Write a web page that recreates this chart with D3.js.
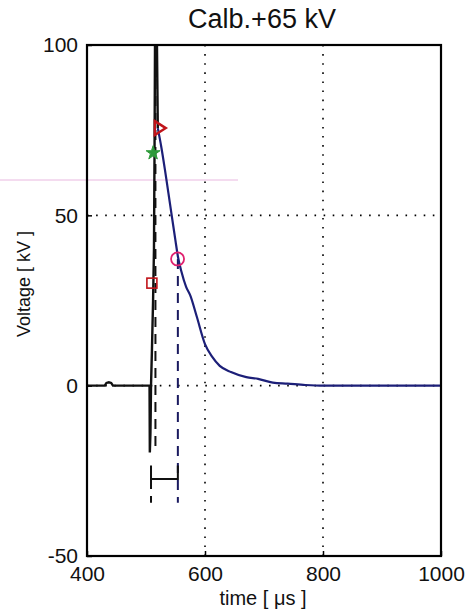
<!DOCTYPE html>
<html><head><meta charset="utf-8">
<script src="https://cdn.jsdelivr.net/npm/d3@7/dist/d3.min.js"></script>
<style>body{margin:0;background:#fff}svg{display:block}text{font-family:"Liberation Sans",Arial,sans-serif;fill:#111}</style>
</head><body><svg id="c" width="468" height="615"></svg>
<script>
// ---- data ----
const xTicks = [400, 600, 800, 1000];
const yTicks = [-50, 0, 50, 100];
const xGrid = [600, 800];
const yGrid = [0, 50];
// raw measured signal (black)
const rawT = [400, 430, 433, 437, 441, 444, 506, 506.5, 507.5, 508, 508.5, 510, 512, 513.5, 514.5, 515.5, 518, 520];
const rawV = [0, 0, 0.8, 1.0, 0.8, 0, 0, -19.6, -14, -8, 0, 10, 25, 40, 70, 110, 110, 75.6];
// fitted decay (blue)
const fitT = [520, 526, 532, 538, 544, 550, 554, 560, 568, 575, 586, 600, 612, 625, 644, 670, 690, 715, 740, 770, 800, 1000];
const fitV = [75.6, 70, 63.5, 56.5, 49.5, 42.5, 38, 33.5, 29, 26.5, 20.3, 12.2, 8.5, 5.8, 4.0, 2.5, 2.0, 0.9, 0.6, 0.2, 0, 0];
// markers
const triPt = [520, 75.6];
const starPt = [512, 68.3];
const sqPt = [510, 30.1];
const circPt = [553.5, 37.2];
// dashed markers / bracket
const dashBlack = [516, 100, -18.7];
const dashBlue = [554, 37.2, -34.4];
const dashLeft = [508.5, -23.4, -34.4];
const bracket = [508.5, 554, -27.4, -23.4];

const svg = d3.select("#c");
const L = 87, R = 441, T = 45, B = 556;
const x = d3.scaleLinear().domain([400, 1000]).range([L, R]);
const y = d3.scaleLinear().domain([-50, 100]).range([B, T]);

// scan artifact line
svg.append("line").attr("x1", 0).attr("x2", 238).attr("y1", 180).attr("y2", 180)
  .attr("stroke", "#e9b8e0").attr("stroke-width", 1);

// grid
xGrid.forEach(v => svg.append("line").attr("x1", x(v)).attr("x2", x(v)).attr("y1", T).attr("y2", B)
  .attr("stroke", "#000").attr("stroke-width", 1.6).attr("stroke-dasharray", "1.6,7.5"));
yGrid.forEach(v => svg.append("line").attr("x1", L).attr("x2", R).attr("y1", y(v)).attr("y2", y(v))
  .attr("stroke", "#000").attr("stroke-width", 1.6).attr("stroke-dasharray", "1.6,7.5"));

// axes with inward ticks
const gx = svg.append("g").attr("transform", `translate(0,${B})`)
  .call(d3.axisBottom(x).tickValues(xTicks).tickSize(-5).tickPadding(10).tickFormat(d3.format("d")));
const gy = svg.append("g").attr("transform", `translate(${L},0)`)
  .call(d3.axisLeft(y).tickValues(yTicks).tickSize(-5).tickPadding(9).tickFormat(d => d < 0 ? "-" + Math.abs(d) : d));
[gx, gy].forEach(g => {
  g.select(".domain").remove();
  g.selectAll("line").attr("stroke", "#000").attr("stroke-width", 1.5);
  g.selectAll("text").attr("font-size", 21).attr("fill", "#111").style("font-family", '"Liberation Sans",Arial,sans-serif');
});

const clip = svg.append("clipPath").attr("id", "pc").append("rect")
  .attr("x", L).attr("y", T).attr("width", R - L).attr("height", B - T);
const plot = svg.append("g").attr("clip-path", "url(#pc)");

const line = d3.line().x(d => x(d[0])).y(d => y(d[1]));

// dashed lines
function vdash(t, v1, v2, col) {
  plot.append("line").attr("x1", x(t)).attr("x2", x(t)).attr("y1", y(v1)).attr("y2", y(v2))
    .attr("stroke", col).attr("stroke-width", 2).attr("stroke-dasharray", "10,7");
}
vdash(dashBlack[0], dashBlack[1], dashBlack[2], "#111");
vdash(dashBlue[0], dashBlue[1], dashBlue[2], "#1a1a60");
vdash(dashLeft[0], bracket[2], dashLeft[2], "#111");
// bracket
plot.append("path").attr("fill", "none").attr("stroke", "#111").attr("stroke-width", 2)
  .attr("d", line([[bracket[0], bracket[3]], [bracket[0], bracket[2]], [bracket[1], bracket[2]], [bracket[1], bracket[3]]]));

// raw signal
plot.append("path").datum(rawT.map((t, i) => [t, rawV[i]])).attr("fill", "none")
  .attr("stroke", "#111").attr("stroke-width", 2.4).attr("d", line);
// fitted
plot.append("path").datum(fitT.map((t, i) => [t, fitV[i]])).attr("fill", "none")
  .attr("stroke", "#1c1f78").attr("stroke-width", 2.2).attr("d", line.curve(d3.curveMonotoneX));

// markers
const tx = x(triPt[0]), ty = y(triPt[1]);
plot.append("path").attr("d", `M${tx - 3},${ty - 7}L${tx + 8},${ty}L${tx - 3},${ty + 7}Z`)
  .attr("fill", "none").attr("stroke", "#c0141a").attr("stroke-width", 2.4);
plot.append("path").attr("d", d3.symbol(d3.symbolStar, 60)()).attr("transform", `translate(${x(starPt[0])},${y(starPt[1])})`)
  .attr("fill", "#2e9a3a").attr("stroke", "#2e9a3a").attr("stroke-width", 1);
plot.append("rect").attr("x", x(sqPt[0]) - 5).attr("y", y(sqPt[1]) - 5).attr("width", 10).attr("height", 10)
  .attr("fill", "none").attr("stroke", "#c0141a").attr("stroke-width", 1.6);
plot.append("circle").attr("cx", x(circPt[0])).attr("cy", y(circPt[1])).attr("r", 6.5)
  .attr("fill", "none").attr("stroke", "#e0206e").attr("stroke-width", 1.8);

// box
svg.append("rect").attr("x", L).attr("y", T).attr("width", R - L).attr("height", B - T)
  .attr("fill", "none").attr("stroke", "#000").attr("stroke-width", 2.2);

// titles
svg.append("text").attr("x", 262).attr("y", 28).attr("text-anchor", "middle").attr("font-size", 27).text("Calb.+65 kV");
svg.append("text").attr("x", 263).attr("y", 605).attr("text-anchor", "middle").attr("font-size", 20).text("time [ \u03bcs ]");
svg.append("text").attr("transform", "translate(30,284) rotate(-90)").attr("text-anchor", "middle").attr("font-size", 18).text("Voltage [ kV ]");
</script></body></html>
